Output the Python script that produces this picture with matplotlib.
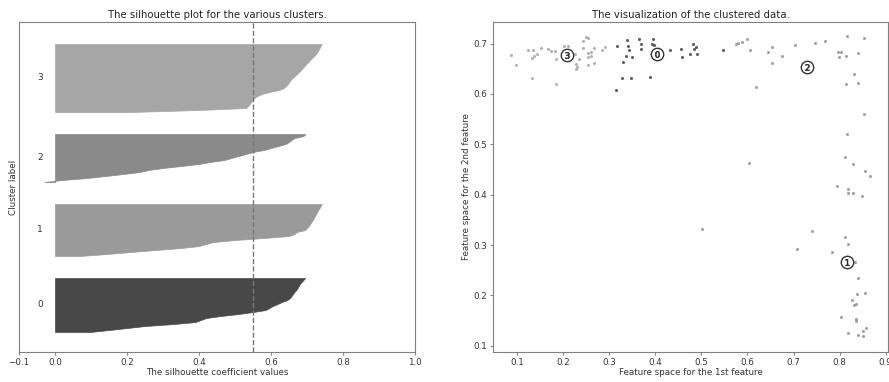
import numpy as np
import matplotlib
matplotlib.use("Agg")
import matplotlib.pyplot as plt

# silhouette values per cluster, sorted ascending
sil_0 = [0.097, 0.15, 0.20, 0.25, 0.33, 0.39, 0.405, 0.42, 0.46, 0.51,
         0.55, 0.585, 0.595, 0.605, 0.618, 0.63, 0.645, 0.653, 0.657, 0.661,
         0.665, 0.67, 0.674, 0.677, 0.68, 0.685, 0.69, 0.695]
sil_1 = [0.069, 0.144, 0.21, 0.28, 0.35, 0.40, 0.42, 0.44, 0.50, 0.58,
         0.65, 0.665, 0.671, 0.695, 0.70, 0.705, 0.709, 0.712, 0.716, 0.719,
         0.722, 0.725, 0.728, 0.731, 0.735, 0.738, 0.741]
sil_2 = [-0.03, 0.02, 0.09, 0.14, 0.19, 0.235, 0.26, 0.30, 0.35, 0.40,
         0.43, 0.47, 0.49, 0.51, 0.53, 0.55, 0.58, 0.60, 0.62, 0.64,
         0.65, 0.657, 0.665, 0.69, 0.696]
sil_3 = [0.21, 0.40, 0.53, 0.537, 0.541, 0.545, 0.549, 0.554, 0.562, 0.575,
         0.595, 0.622, 0.635, 0.642, 0.647, 0.651, 0.654, 0.66, 0.666, 0.672,
         0.678, 0.683, 0.688, 0.693, 0.698, 0.704, 0.709, 0.714, 0.72, 0.725,
         0.729, 0.732, 0.735, 0.738, 0.741]
silhouette_avg = 0.551

# clustered points
x_0 = [0.317, 0.315, 0.339, 0.341, 0.344, 0.336, 0.331, 0.328, 0.347, 0.350,
       0.365, 0.370, 0.369, 0.395, 0.392, 0.389, 0.431, 0.456, 0.459, 0.476,
       0.481, 0.488, 0.485, 0.490, 0.547, 0.397]
y_0 = [0.696, 0.607, 0.708, 0.695, 0.688, 0.676, 0.664, 0.632, 0.632, 0.674,
       0.710, 0.699, 0.689, 0.709, 0.699, 0.634, 0.688, 0.690, 0.674, 0.680,
       0.699, 0.693, 0.689, 0.679, 0.688, 0.697]
x_1 = [0.812, 0.830, 0.854, 0.866, 0.795, 0.818, 0.818, 0.830, 0.848, 0.741,
       0.811, 0.819, 0.707, 0.783, 0.834, 0.840, 0.838, 0.856, 0.827, 0.832,
       0.836, 0.802, 0.836, 0.835, 0.857, 0.850, 0.819, 0.840, 0.850, 0.501,
       0.603]
y_1 = [0.475, 0.461, 0.448, 0.438, 0.418, 0.412, 0.403, 0.403, 0.397, 0.328,
       0.315, 0.303, 0.292, 0.287, 0.267, 0.234, 0.202, 0.204, 0.190, 0.181,
       0.182, 0.158, 0.153, 0.150, 0.135, 0.130, 0.126, 0.121, 0.120, 0.332,
       0.462]
x_2 = [0.576, 0.579, 0.589, 0.600, 0.606, 0.619, 0.645, 0.654, 0.653, 0.674,
       0.704, 0.747, 0.769, 0.816, 0.852, 0.796, 0.803, 0.798, 0.814, 0.839,
       0.831, 0.813, 0.840, 0.853, 0.815]
y_2 = [0.699, 0.701, 0.703, 0.709, 0.688, 0.614, 0.684, 0.693, 0.661, 0.675,
       0.697, 0.702, 0.706, 0.715, 0.712, 0.683, 0.683, 0.673, 0.676, 0.681,
       0.639, 0.620, 0.621, 0.560, 0.520]
x_3 = [0.087, 0.098, 0.123, 0.135, 0.133, 0.136, 0.143, 0.153, 0.132, 0.167,
       0.174, 0.182, 0.185, 0.185, 0.203, 0.210, 0.226, 0.229, 0.231, 0.227,
       0.235, 0.244, 0.249, 0.253, 0.244, 0.253, 0.261, 0.260, 0.254, 0.253,
       0.266, 0.268, 0.285, 0.292]
y_3 = [0.678, 0.658, 0.688, 0.688, 0.671, 0.676, 0.680, 0.691, 0.631, 0.689,
       0.685, 0.685, 0.620, 0.669, 0.695, 0.695, 0.679, 0.659, 0.654, 0.649,
       0.670, 0.705, 0.713, 0.711, 0.691, 0.681, 0.684, 0.676, 0.673, 0.658,
       0.662, 0.692, 0.687, 0.694]

centers_x = [0.403, 0.815, 0.730, 0.208]
centers_y = [0.680, 0.267, 0.653, 0.678]

sil_values = [sil_0, sil_1, sil_2, sil_3]
points = [(x_0, y_0), (x_1, y_1), (x_2, y_2), (x_3, y_3)]
fill_colors = ["#484848", "#9a9a9a", "#8a8a8a", "#a6a6a6"]
dot_colors = ["#3a3a3a", "#8c8c8c", "#8c8c8c", "#a0a0a0"]
n_clusters = 4
n_samples = sum(len(v) for v in sil_values)

plt.rcParams["font.family"] = "DejaVu Sans"
plt.rcParams["axes.edgecolor"] = "#808080"
plt.rcParams["xtick.color"] = "#808080"
plt.rcParams["ytick.color"] = "#808080"
plt.rcParams["xtick.labelcolor"] = "#333333"
plt.rcParams["ytick.labelcolor"] = "#333333"
plt.rcParams["xtick.major.size"] = 2.5
plt.rcParams["ytick.major.size"] = 2.5

fig = plt.figure(figsize=(8.89, 3.82), dpi=100)
ax1 = fig.add_axes([0.0214, 0.0785, 0.4454, 0.8639])
ax2 = fig.add_axes([0.5546, 0.0785, 0.4443, 0.8639])

# silhouette plot
ax1.set_xlim([-0.1, 1])
ax1.set_ylim([0, n_samples + (n_clusters + 1) * 10])
y_lower = 10
for i in range(n_clusters):
    vals = np.array(sil_values[i])
    size_i = len(vals)
    y_upper = y_lower + size_i
    ax1.fill_betweenx(np.arange(y_lower, y_upper), 0, vals,
                      facecolor=fill_colors[i], edgecolor=fill_colors[i], lw=0.5)
    ax1.text(-0.05, y_lower + 0.5 * size_i, str(i), fontsize=6.5,
             color="#333333", va="center")
    y_lower = y_upper + 10

ax1.set_title("The silhouette plot for the various clusters.", fontsize=7.3,
              color="#222222", pad=3)
ax1.set_xlabel("The silhouette coefficient values", fontsize=6.3,
               color="#333333", labelpad=1)
ax1.set_ylabel("Cluster label", fontsize=6.3, color="#333333", labelpad=1)
ax1.axvline(x=silhouette_avg, color="#777777", linestyle="--", lw=1)
ax1.set_yticks([])
ax1.set_xticks([-0.1, 0, 0.2, 0.4, 0.6, 0.8, 1])
ax1.tick_params(axis="x", labelsize=6.3, pad=1.5)

# clustered data
for i in range(n_clusters):
    xs, ys = points[i]
    ax2.scatter(xs, ys, marker="o", s=5, lw=0, alpha=0.8, c=dot_colors[i])

ax2.scatter(centers_x, centers_y, marker="o", c="white", alpha=1, s=80,
            edgecolor="#333333", linewidths=1)
for i in range(n_clusters):
    ax2.scatter(centers_x[i], centers_y[i], marker="$%d$" % i, alpha=1, s=22,
                c="#222222", linewidths=0.4, edgecolor="#222222")

ax2.set_xlim(0.048, 0.905)
ax2.set_ylim(0.0875, 0.743)
ax2.set_xticks([0.1, 0.2, 0.3, 0.4, 0.5, 0.6, 0.7, 0.8, 0.9])
ax2.set_yticks([0.1, 0.2, 0.3, 0.4, 0.5, 0.6, 0.7])
ax2.tick_params(labelsize=6.3, pad=1.5)
ax2.set_title("The visualization of the clustered data.", fontsize=7.3,
              color="#222222", pad=3)
ax2.set_xlabel("Feature space for the 1st feature", fontsize=6.3,
               color="#333333", labelpad=1)
ax2.set_ylabel("Feature space for the 2nd feature", fontsize=6.3,
               color="#333333", labelpad=2)

fig.savefig("out.png", dpi=100)
